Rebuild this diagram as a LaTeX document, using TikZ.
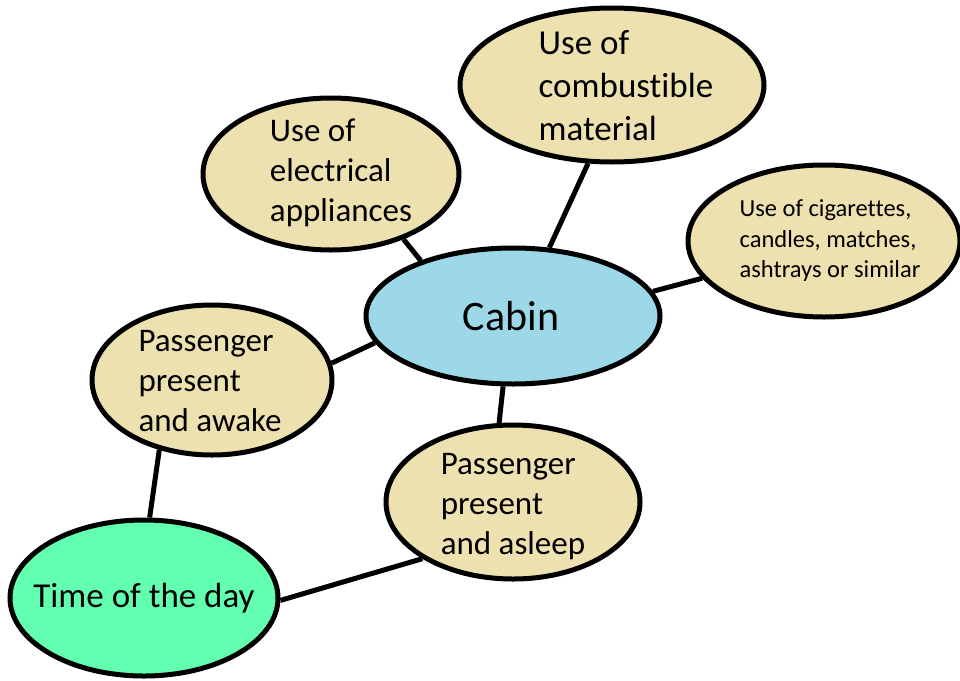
\documentclass[tikz,border=0pt]{standalone}
\usepackage{fontspec}
\setmainfont[Ligatures=NoCommon]{Carlito}
\usepackage{xcolor}
\usepackage{tikz}
\usetikzlibrary{shapes.geometric}
\usetikzlibrary{positioning, calc}
\definecolor{tan}{RGB}{238,225,176}
\definecolor{cabinblue}{RGB}{156,216,232}
\definecolor{daygreen}{RGB}{98,255,176}

\begin{document}
\begin{tikzpicture}[x=1pt, y=-1pt,
    bubble/.style={ellipse, draw, line width=5pt, fill=tan, inner sep=0pt},
    txt/.style={align=left, inner sep=0pt, font=\fontsize{33}{40}\selectfont},
    link/.style={line width=5pt}]
\useasboundingbox (0,0) rectangle (960,680);

\node[bubble, minimum width=304, minimum height=154] (comb) at (612, 85) {};
\node[bubble, minimum width=256, minimum height=152] (elec) at (331, 174) {};
\node[bubble, minimum width=272, minimum height=152] (cig) at (824, 241) {};
\node[bubble, fill=cabinblue, minimum width=294, minimum height=136] (cabin) at (513, 316) {};
\node[bubble, minimum width=240, minimum height=150] (awake) at (212, 380) {};
\node[bubble, minimum width=254, minimum height=154] (asleep) at (513, 502) {};
\node[bubble, fill=daygreen, minimum width=268, minimum height=156] (time) at (144, 598) {};

\node[txt, font=\fontsize{35}{43}\selectfont] (comb-t) at (626, 86) {Use of\\combustible\\material};
\node[txt] (elec-t) at (341, 173) {Use of\\electrical\\appliances};
\node[txt, font=\fontsize{24.5}{30.5}\selectfont] (cig-t) at (830, 241) {Use of cigarettes,\\candles, matches,\\ashtrays or similar};
\node[txt, font=\fontsize{42}{50}\selectfont] (cabin-t) at (511, 316) {Cabin};
\node[txt] (awake-t) at (210, 381) {Passenger\\present\\and awake};
\node[txt] (asleep-t) at (513, 507) {Passenger\\present\\and asleep};
\node[txt, font=\fontsize{35}{43}\selectfont] (time-t) at (144, 598) {Time of the day};

\foreach \a/\b in {
    comb.-107/cabin.62, elec.-42/cabin.149, cig.197/cabin.10,
    cabin.191/awake.8, cabin.-98/asleep.100,
    awake.-127/time.86, asleep.212/time.-1}
    \draw[link] (\a) -- (\b);

\end{tikzpicture}
\end{document}
